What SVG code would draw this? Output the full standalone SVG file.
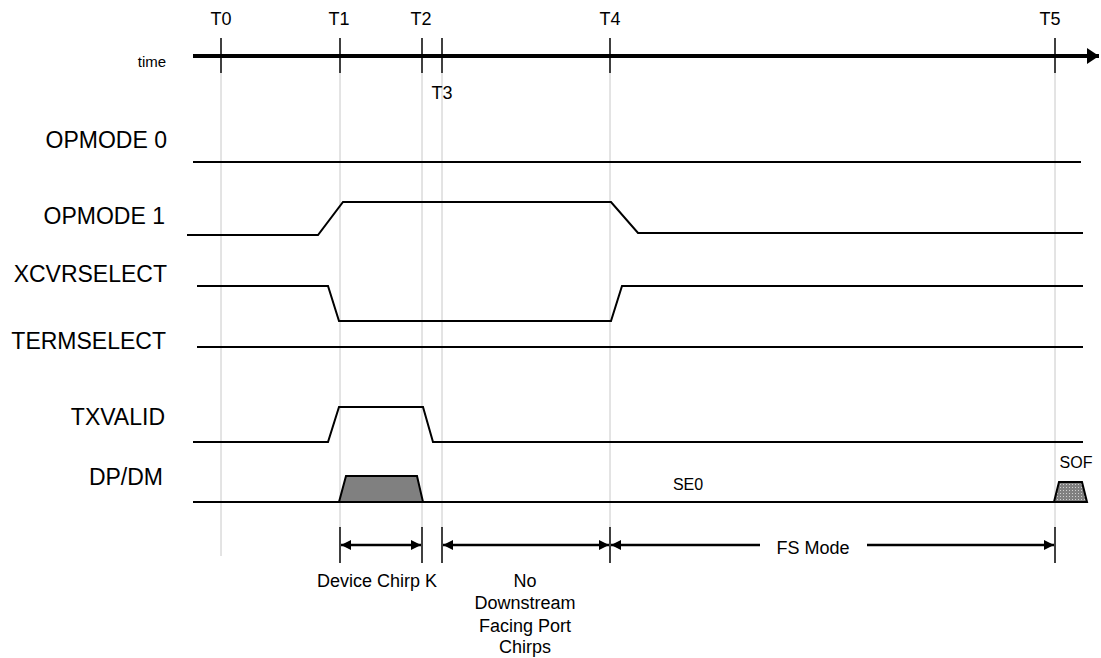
<svg xmlns="http://www.w3.org/2000/svg" width="1101" height="658" viewBox="0 0 1101 658">
<style>
text{font-family:"Liberation Sans",Arial,sans-serif;fill:#000}
.lbl{font-size:23px;text-anchor:end}
.t{font-size:18px;text-anchor:middle}
.s{font-size:16px;text-anchor:middle}
.guide{stroke:#c8c8c8;stroke-width:1;fill:none}
.sig{stroke:#000;stroke-width:2;fill:none;stroke-linejoin:miter}
.tick{stroke:#000;stroke-width:1.5}
.dim{stroke:#000;stroke-width:2.5;fill:none}
</style>
<defs>
<marker id="ah" viewBox="0 0 10 10" refX="10" refY="5" markerWidth="10" markerHeight="10" markerUnits="userSpaceOnUse" orient="auto-start-reverse">
<path d="M0,0 L10,5 L0,10 Z" fill="#000"/>
</marker>
<marker id="big" viewBox="0 0 12 16" refX="12" refY="8" markerWidth="12" markerHeight="16" markerUnits="userSpaceOnUse" orient="auto">
<path d="M0,0 L12,8 L0,16 Z" fill="#000"/>
</marker>
<pattern id="dots" width="3" height="3" patternUnits="userSpaceOnUse">
<rect width="3" height="3" fill="#808080"/>
<rect x="1" y="1" width="1" height="1" fill="#d0d0d0"/>
</pattern>
</defs>

<g id="guides">
<line class="guide" x1="221" y1="73" x2="221" y2="556"/>
<line class="guide" x1="340" y1="73" x2="340" y2="528"/>
<line class="guide" x1="422" y1="73" x2="422" y2="528"/>
<line class="guide" x1="442" y1="73" x2="442" y2="528"/>
<line class="guide" x1="610" y1="73" x2="610" y2="528"/>
<line class="guide" x1="1055" y1="73" x2="1055" y2="528"/>
</g>

<g id="time-axis">
<line x1="193" y1="56" x2="1099" y2="56" stroke="#000" stroke-width="4" marker-end="url(#big)"/>
<line class="tick" x1="221" y1="38" x2="221" y2="73"/>
<line class="tick" x1="340" y1="38" x2="340" y2="73"/>
<line class="tick" x1="422" y1="38" x2="422" y2="73"/>
<line class="tick" x1="442" y1="38" x2="442" y2="73"/>
<line class="tick" x1="610" y1="38" x2="610" y2="73"/>
<line class="tick" x1="1055" y1="38" x2="1055" y2="73"/>
<text class="s" x="152" y="67" style="font-size:15px">time</text>
<text class="t" x="221" y="25">T0</text>
<text class="t" x="339" y="25">T1</text>
<text class="t" x="421" y="25">T2</text>
<text class="t" x="442" y="99">T3</text>
<text class="t" x="610" y="25">T4</text>
<text class="t" x="1050" y="25">T5</text>
</g>

<g id="opmode0">
<text class="lbl" x="167" y="148">OPMODE 0</text>
<line class="sig" x1="193" y1="162" x2="1081" y2="162"/>
</g>

<g id="opmode1">
<text class="lbl" x="165" y="224">OPMODE 1</text>
<polyline class="sig" points="187,235 318,235 343,202 611,202 638,233 1083,233"/>
</g>

<g id="xcvrselect">
<text class="lbl" x="167" y="282">XCVRSELECT</text>
<polyline class="sig" points="197,286 328,286 339,321 611,321 622,286 1083,286"/>
</g>

<g id="termselect">
<text class="lbl" x="166" y="349">TERMSELECT</text>
<line class="sig" x1="197" y1="347" x2="1083" y2="347"/>
</g>

<g id="txvalid">
<text class="lbl" x="165" y="425">TXVALID</text>
<polyline class="sig" points="193,442 328,442 339,407 423,407 433,442 1083,442"/>
</g>

<g id="dpdm">
<text class="lbl" x="163" y="485">DP/DM</text>
<line class="sig" x1="193" y1="502" x2="1087" y2="502"/>
<polygon points="339,502 346,476 417,476 423,502" fill="#808080" stroke="#000" stroke-width="2"/>
<polygon points="1054,502 1059,482 1082,482 1087,502" fill="url(#dots)" stroke="#000" stroke-width="2"/>
<text class="s" x="688" y="490">SE0</text>
<text class="s" x="1076" y="468">SOF</text>
</g>

<g id="connectors">
<line class="tick" x1="340" y1="527" x2="340" y2="563"/>
<line class="tick" x1="422" y1="527" x2="422" y2="563"/>
<line class="tick" x1="442" y1="527" x2="442" y2="563"/>
<line class="tick" x1="610" y1="527" x2="610" y2="563"/>
<line class="tick" x1="1055" y1="527" x2="1055" y2="563"/>
<line class="dim" x1="341" y1="545" x2="421" y2="545" marker-start="url(#ah)" marker-end="url(#ah)"/>
<line class="dim" x1="443" y1="545" x2="609" y2="545" marker-start="url(#ah)" marker-end="url(#ah)"/>
<line class="dim" x1="611" y1="545" x2="760" y2="545" marker-start="url(#ah)"/>
<line class="dim" x1="867" y1="545" x2="1054" y2="545" marker-end="url(#ah)"/>
</g>

<g id="labels">
<text class="t" x="377" y="587">Device Chirp K</text>
<text class="t" x="525" y="587">No</text>
<text class="t" x="525" y="609">Downstream</text>
<text class="t" x="525" y="632">Facing Port</text>
<text class="t" x="525" y="653">Chirps</text>
<text class="t" x="813" y="554">FS Mode</text>
</g>
</svg>
